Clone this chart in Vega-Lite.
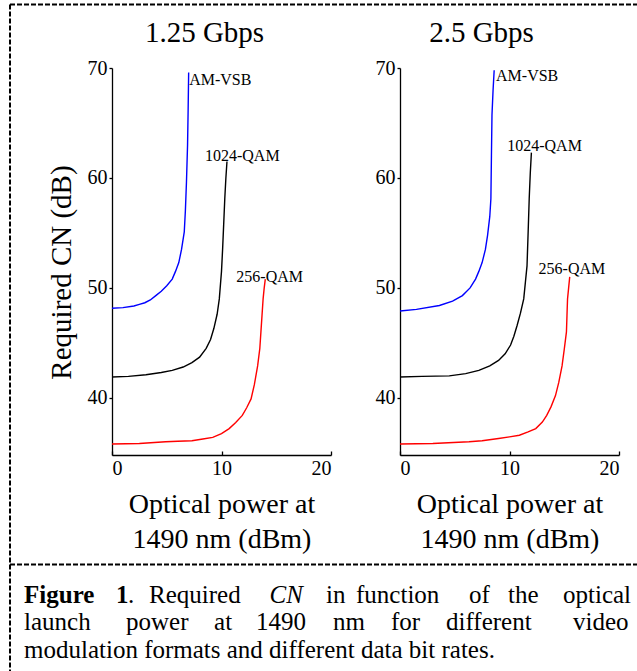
{
  "$schema": "https://vega.github.io/schema/vega-lite/v6.json",
  "padding": {"left": 9, "top": 4, "right": 0, "bottom": 0},
  "background": "white",
  "config": {
    "view": {"stroke": null},
    "font": "Liberation Serif",
    "title": {"font": "Liberation Serif", "fontSize": 29, "fontWeight": "normal", "color": "black", "offset": 10, "frame": "group"},
    "axis": {"grid": false, "labelFont": "Liberation Serif", "labelFontSize": 20, "labelColor": "black", "titleFont": "Liberation Serif", "titleFontSize": 28, "titleFontWeight": "normal", "titleColor": "black", "domainColor": "black", "domainWidth": 1.3, "tickColor": "black", "tickWidth": 1.3},
    "text": {"font": "Liberation Serif", "color": "black"}
  },
  "datasets": {
    "curves": [
      {"rate": "1.25 Gbps", "format": "AM-VSB", "x": 0, "y": 48.15},
      {"rate": "1.25 Gbps", "format": "AM-VSB", "x": 1, "y": 48.2},
      {"rate": "1.25 Gbps", "format": "AM-VSB", "x": 2, "y": 48.35},
      {"rate": "1.25 Gbps", "format": "AM-VSB", "x": 2.5, "y": 48.5},
      {"rate": "1.25 Gbps", "format": "AM-VSB", "x": 3, "y": 48.65},
      {"rate": "1.25 Gbps", "format": "AM-VSB", "x": 3.5, "y": 48.9},
      {"rate": "1.25 Gbps", "format": "AM-VSB", "x": 4, "y": 49.3},
      {"rate": "1.25 Gbps", "format": "AM-VSB", "x": 4.5, "y": 49.7},
      {"rate": "1.25 Gbps", "format": "AM-VSB", "x": 5, "y": 50.2},
      {"rate": "1.25 Gbps", "format": "AM-VSB", "x": 5.5, "y": 50.8},
      {"rate": "1.25 Gbps", "format": "AM-VSB", "x": 5.8, "y": 51.5},
      {"rate": "1.25 Gbps", "format": "AM-VSB", "x": 6.1, "y": 52.3},
      {"rate": "1.25 Gbps", "format": "AM-VSB", "x": 6.35, "y": 53.5},
      {"rate": "1.25 Gbps", "format": "AM-VSB", "x": 6.6, "y": 55.1},
      {"rate": "1.25 Gbps", "format": "AM-VSB", "x": 6.7, "y": 57},
      {"rate": "1.25 Gbps", "format": "AM-VSB", "x": 6.8, "y": 59.6},
      {"rate": "1.25 Gbps", "format": "AM-VSB", "x": 6.9, "y": 63},
      {"rate": "1.25 Gbps", "format": "AM-VSB", "x": 6.95, "y": 66},
      {"rate": "1.25 Gbps", "format": "AM-VSB", "x": 7.0, "y": 69.6},
      {"rate": "1.25 Gbps", "format": "1024-QAM", "x": 0, "y": 41.9},
      {"rate": "1.25 Gbps", "format": "1024-QAM", "x": 1.5, "y": 41.95},
      {"rate": "1.25 Gbps", "format": "1024-QAM", "x": 3.1, "y": 42.1},
      {"rate": "1.25 Gbps", "format": "1024-QAM", "x": 4.5, "y": 42.3},
      {"rate": "1.25 Gbps", "format": "1024-QAM", "x": 5.5, "y": 42.5},
      {"rate": "1.25 Gbps", "format": "1024-QAM", "x": 6.5, "y": 42.8},
      {"rate": "1.25 Gbps", "format": "1024-QAM", "x": 7.3, "y": 43.2},
      {"rate": "1.25 Gbps", "format": "1024-QAM", "x": 8, "y": 43.7},
      {"rate": "1.25 Gbps", "format": "1024-QAM", "x": 8.6, "y": 44.5},
      {"rate": "1.25 Gbps", "format": "1024-QAM", "x": 9, "y": 45.3},
      {"rate": "1.25 Gbps", "format": "1024-QAM", "x": 9.3, "y": 46.3},
      {"rate": "1.25 Gbps", "format": "1024-QAM", "x": 9.6, "y": 47.6},
      {"rate": "1.25 Gbps", "format": "1024-QAM", "x": 9.8, "y": 49},
      {"rate": "1.25 Gbps", "format": "1024-QAM", "x": 10, "y": 51.5},
      {"rate": "1.25 Gbps", "format": "1024-QAM", "x": 10.1, "y": 53.5},
      {"rate": "1.25 Gbps", "format": "1024-QAM", "x": 10.2, "y": 55.8},
      {"rate": "1.25 Gbps", "format": "1024-QAM", "x": 10.3, "y": 58.1},
      {"rate": "1.25 Gbps", "format": "1024-QAM", "x": 10.4, "y": 60},
      {"rate": "1.25 Gbps", "format": "1024-QAM", "x": 10.5, "y": 61.5},
      {"rate": "1.25 Gbps", "format": "256-QAM", "x": 0, "y": 35.8},
      {"rate": "1.25 Gbps", "format": "256-QAM", "x": 2.5, "y": 35.85},
      {"rate": "1.25 Gbps", "format": "256-QAM", "x": 4.9, "y": 36.0},
      {"rate": "1.25 Gbps", "format": "256-QAM", "x": 6, "y": 36.05},
      {"rate": "1.25 Gbps", "format": "256-QAM", "x": 7.3, "y": 36.1},
      {"rate": "1.25 Gbps", "format": "256-QAM", "x": 8.3, "y": 36.25},
      {"rate": "1.25 Gbps", "format": "256-QAM", "x": 9.2, "y": 36.4},
      {"rate": "1.25 Gbps", "format": "256-QAM", "x": 10, "y": 36.75},
      {"rate": "1.25 Gbps", "format": "256-QAM", "x": 10.7, "y": 37.2},
      {"rate": "1.25 Gbps", "format": "256-QAM", "x": 11.3, "y": 37.75},
      {"rate": "1.25 Gbps", "format": "256-QAM", "x": 11.9, "y": 38.4},
      {"rate": "1.25 Gbps", "format": "256-QAM", "x": 12.3, "y": 39.1},
      {"rate": "1.25 Gbps", "format": "256-QAM", "x": 12.7, "y": 39.9},
      {"rate": "1.25 Gbps", "format": "256-QAM", "x": 13, "y": 41.2},
      {"rate": "1.25 Gbps", "format": "256-QAM", "x": 13.3, "y": 42.9},
      {"rate": "1.25 Gbps", "format": "256-QAM", "x": 13.5, "y": 44.5},
      {"rate": "1.25 Gbps", "format": "256-QAM", "x": 13.6, "y": 46},
      {"rate": "1.25 Gbps", "format": "256-QAM", "x": 13.7, "y": 47.5},
      {"rate": "1.25 Gbps", "format": "256-QAM", "x": 13.8, "y": 49},
      {"rate": "1.25 Gbps", "format": "256-QAM", "x": 13.9, "y": 50},
      {"rate": "1.25 Gbps", "format": "256-QAM", "x": 14.0, "y": 50.8},
      {"rate": "2.5 Gbps", "format": "AM-VSB", "x": 0, "y": 47.9},
      {"rate": "2.5 Gbps", "format": "AM-VSB", "x": 1.5, "y": 48.05},
      {"rate": "2.5 Gbps", "format": "AM-VSB", "x": 3.6, "y": 48.4},
      {"rate": "2.5 Gbps", "format": "AM-VSB", "x": 4.8, "y": 48.8},
      {"rate": "2.5 Gbps", "format": "AM-VSB", "x": 5.7, "y": 49.3},
      {"rate": "2.5 Gbps", "format": "AM-VSB", "x": 6.4, "y": 50},
      {"rate": "2.5 Gbps", "format": "AM-VSB", "x": 6.9, "y": 50.8},
      {"rate": "2.5 Gbps", "format": "AM-VSB", "x": 7.2, "y": 51.5},
      {"rate": "2.5 Gbps", "format": "AM-VSB", "x": 7.5, "y": 52.3},
      {"rate": "2.5 Gbps", "format": "AM-VSB", "x": 7.8, "y": 53.5},
      {"rate": "2.5 Gbps", "format": "AM-VSB", "x": 8.0, "y": 54.8},
      {"rate": "2.5 Gbps", "format": "AM-VSB", "x": 8.2, "y": 56.5},
      {"rate": "2.5 Gbps", "format": "AM-VSB", "x": 8.3, "y": 58.1},
      {"rate": "2.5 Gbps", "format": "AM-VSB", "x": 8.35, "y": 62},
      {"rate": "2.5 Gbps", "format": "AM-VSB", "x": 8.4, "y": 65.7},
      {"rate": "2.5 Gbps", "format": "AM-VSB", "x": 8.5, "y": 68},
      {"rate": "2.5 Gbps", "format": "AM-VSB", "x": 8.6, "y": 69.8},
      {"rate": "2.5 Gbps", "format": "1024-QAM", "x": 0, "y": 41.9},
      {"rate": "2.5 Gbps", "format": "1024-QAM", "x": 2, "y": 41.95},
      {"rate": "2.5 Gbps", "format": "1024-QAM", "x": 4.5, "y": 42.0},
      {"rate": "2.5 Gbps", "format": "1024-QAM", "x": 6, "y": 42.2},
      {"rate": "2.5 Gbps", "format": "1024-QAM", "x": 7.2, "y": 42.5},
      {"rate": "2.5 Gbps", "format": "1024-QAM", "x": 8.2, "y": 42.9},
      {"rate": "2.5 Gbps", "format": "1024-QAM", "x": 9.0, "y": 43.4},
      {"rate": "2.5 Gbps", "format": "1024-QAM", "x": 9.6, "y": 44},
      {"rate": "2.5 Gbps", "format": "1024-QAM", "x": 10.1, "y": 44.8},
      {"rate": "2.5 Gbps", "format": "1024-QAM", "x": 10.4, "y": 45.6},
      {"rate": "2.5 Gbps", "format": "1024-QAM", "x": 10.7, "y": 46.6},
      {"rate": "2.5 Gbps", "format": "1024-QAM", "x": 11.0, "y": 47.7},
      {"rate": "2.5 Gbps", "format": "1024-QAM", "x": 11.3, "y": 49},
      {"rate": "2.5 Gbps", "format": "1024-QAM", "x": 11.45, "y": 50.5},
      {"rate": "2.5 Gbps", "format": "1024-QAM", "x": 11.6, "y": 52},
      {"rate": "2.5 Gbps", "format": "1024-QAM", "x": 11.7, "y": 55},
      {"rate": "2.5 Gbps", "format": "1024-QAM", "x": 11.8, "y": 58.1},
      {"rate": "2.5 Gbps", "format": "1024-QAM", "x": 11.9, "y": 60.5},
      {"rate": "2.5 Gbps", "format": "1024-QAM", "x": 12.0, "y": 62.3},
      {"rate": "2.5 Gbps", "format": "256-QAM", "x": 0, "y": 35.8},
      {"rate": "2.5 Gbps", "format": "256-QAM", "x": 3, "y": 35.85},
      {"rate": "2.5 Gbps", "format": "256-QAM", "x": 6.3, "y": 36.0},
      {"rate": "2.5 Gbps", "format": "256-QAM", "x": 7.5, "y": 36.1},
      {"rate": "2.5 Gbps", "format": "256-QAM", "x": 9.0, "y": 36.3},
      {"rate": "2.5 Gbps", "format": "256-QAM", "x": 10, "y": 36.45},
      {"rate": "2.5 Gbps", "format": "256-QAM", "x": 10.9, "y": 36.6},
      {"rate": "2.5 Gbps", "format": "256-QAM", "x": 11.7, "y": 36.9},
      {"rate": "2.5 Gbps", "format": "256-QAM", "x": 12.4, "y": 37.2},
      {"rate": "2.5 Gbps", "format": "256-QAM", "x": 13, "y": 37.8},
      {"rate": "2.5 Gbps", "format": "256-QAM", "x": 13.4, "y": 38.4},
      {"rate": "2.5 Gbps", "format": "256-QAM", "x": 13.8, "y": 39.2},
      {"rate": "2.5 Gbps", "format": "256-QAM", "x": 14.2, "y": 40.2},
      {"rate": "2.5 Gbps", "format": "256-QAM", "x": 14.5, "y": 41.4},
      {"rate": "2.5 Gbps", "format": "256-QAM", "x": 14.8, "y": 42.9},
      {"rate": "2.5 Gbps", "format": "256-QAM", "x": 15.0, "y": 44.4},
      {"rate": "2.5 Gbps", "format": "256-QAM", "x": 15.2, "y": 46},
      {"rate": "2.5 Gbps", "format": "256-QAM", "x": 15.25, "y": 47.5},
      {"rate": "2.5 Gbps", "format": "256-QAM", "x": 15.3, "y": 49},
      {"rate": "2.5 Gbps", "format": "256-QAM", "x": 15.4, "y": 50},
      {"rate": "2.5 Gbps", "format": "256-QAM", "x": 15.5, "y": 51}
    ],
    "labels": [
      {"rate": "1.25 Gbps", "format": "AM-VSB", "x": 7.05, "y": 68.9},
      {"rate": "1.25 Gbps", "format": "1024-QAM", "x": 11.9, "y": 62.0},
      {"rate": "1.25 Gbps", "format": "256-QAM", "x": 14.4, "y": 50.95},
      {"rate": "2.5 Gbps", "format": "AM-VSB", "x": 8.77, "y": 69.3},
      {"rate": "2.5 Gbps", "format": "1024-QAM", "x": 13.2, "y": 62.95},
      {"rate": "2.5 Gbps", "format": "256-QAM", "x": 15.7, "y": 51.7}
    ],
    "caption": [
      {"line": 1, "part": "label", "word": "Figure", "pos": 0},
      {"line": 1, "part": "label", "word": "1", "pos": 0.1508},
      {"line": 1, "part": "text", "word": ".", "pos": 0.1705},
      {"line": 1, "part": "text", "word": "Required", "pos": 0.2049},
      {"line": 1, "part": "term", "word": "CN", "pos": 0.4025},
      {"line": 1, "part": "text", "word": "in", "pos": 0.4951},
      {"line": 1, "part": "text", "word": "function", "pos": 0.5443},
      {"line": 1, "part": "text", "word": "of", "pos": 0.7295},
      {"line": 1, "part": "text", "word": "the", "pos": 0.7934},
      {"line": 1, "part": "text", "word": "optical", "pos": 0.8836},
      {"line": 2, "part": "text", "word": "launch", "pos": 0},
      {"line": 2, "part": "text", "word": "power", "pos": 0.1672},
      {"line": 2, "part": "text", "word": "at", "pos": 0.3115},
      {"line": 2, "part": "text", "word": "1490", "pos": 0.3803},
      {"line": 2, "part": "text", "word": "nm", "pos": 0.5066},
      {"line": 2, "part": "text", "word": "for", "pos": 0.6016},
      {"line": 2, "part": "text", "word": "different", "pos": 0.6918},
      {"line": 2, "part": "text", "word": "video", "pos": 0.9},
      {"line": 3, "part": "text", "word": "modulation formats and different data bit rates.", "pos": 0}
    ]
  },
  "columns": 2,
  "bounds": "flush",
  "spacing": {"row": 109, "column": 69},
  "concat": [
    {
      "width": 219, "height": 387,
      "title": {"text": "1.25 Gbps", "dx": -17},
      "layer": [
        {
          "data": {"name": "curves"},
          "transform": [{"filter": "datum.rate == '1.25 Gbps'"}],
          "mark": {"type": "line", "strokeWidth": 1.4},
          "encoding": {
            "x": {"field": "x", "type": "quantitative", "scale": {"domain": [0, 20], "nice": false}, "axis": {"values": [0, 10, 20], "tickSize": -4, "labelPadding": 7, "title": ["Optical power at", "1490 nm (dBm)"], "titlePadding": 12, "titleLineHeight": 35}},
            "y": {"field": "y", "type": "quantitative", "scale": {"domain": [34.8, 70], "nice": false, "zero": false}, "axis": {"values": [40, 50, 60, 70], "tickSize": 3, "labelPadding": 2, "title": "Required CN (dB)", "titleFontSize": 29, "titlePadding": 11, "titleY": 204}},
            "color": {"field": "format", "type": "nominal", "scale": {"domain": ["AM-VSB", "1024-QAM", "256-QAM"], "range": ["#0000ff", "#000000", "#ff0000"]}, "legend": null}
          }
        },
        {
          "data": {"name": "labels"},
          "transform": [{"filter": "datum.rate == '1.25 Gbps' && datum.format == 'AM-VSB'"}],
          "mark": {"type": "text", "align": "left", "baseline": "middle", "fontSize": 16},
          "encoding": {"x": {"field": "x", "type": "quantitative"}, "y": {"field": "y", "type": "quantitative"}, "text": {"field": "format"}}
        },
        {
          "data": {"name": "labels"},
          "transform": [{"filter": "datum.rate == '1.25 Gbps' && datum.format != 'AM-VSB'"}],
          "mark": {"type": "text", "align": "center", "baseline": "middle", "fontSize": 16},
          "encoding": {"x": {"field": "x", "type": "quantitative"}, "y": {"field": "y", "type": "quantitative"}, "text": {"field": "format"}}
        }
      ]
    },
    {
      "width": 219, "height": 387,
      "title": {"text": "2.5 Gbps", "dx": -28},
      "layer": [
        {
          "data": {"name": "curves"},
          "transform": [{"filter": "datum.rate == '2.5 Gbps'"}],
          "mark": {"type": "line", "strokeWidth": 1.4},
          "encoding": {
            "x": {"field": "x", "type": "quantitative", "scale": {"domain": [0, 20], "nice": false}, "axis": {"values": [0, 10, 20], "tickSize": -4, "labelPadding": 7, "title": ["Optical power at", "1490 nm (dBm)"], "titlePadding": 12, "titleLineHeight": 35}},
            "y": {"field": "y", "type": "quantitative", "scale": {"domain": [34.8, 70], "nice": false, "zero": false}, "axis": {"values": [40, 50, 60, 70], "tickSize": 3, "labelPadding": 2, "title": null}},
            "color": {"field": "format", "type": "nominal", "scale": {"domain": ["AM-VSB", "1024-QAM", "256-QAM"], "range": ["#0000ff", "#000000", "#ff0000"]}, "legend": null}
          }
        },
        {
          "data": {"name": "labels"},
          "transform": [{"filter": "datum.rate == '2.5 Gbps' && datum.format == 'AM-VSB'"}],
          "mark": {"type": "text", "align": "left", "baseline": "middle", "fontSize": 16},
          "encoding": {"x": {"field": "x", "type": "quantitative"}, "y": {"field": "y", "type": "quantitative"}, "text": {"field": "format"}}
        },
        {
          "data": {"name": "labels"},
          "transform": [{"filter": "datum.rate == '2.5 Gbps' && datum.format != 'AM-VSB'"}],
          "mark": {"type": "text", "align": "center", "baseline": "middle", "fontSize": 16},
          "encoding": {"x": {"field": "x", "type": "quantitative"}, "y": {"field": "y", "type": "quantitative"}, "text": {"field": "format"}}
        }
      ]
    },
    {
      "width": 219, "height": 120,
      "resolve": {"axis": {"x": "independent"}},
      "layer": [
        {
          "data": {"name": "caption"},
          "encoding": {
            "x": {"field": "pos", "type": "quantitative", "scale": {"domain": [-0.0238, 1.0254], "range": [-102.5, 537.5], "nice": false, "zero": false}, "axis": {"orient": "top", "offset": 560, "domainDash": [5, 2], "domainWidth": 2, "ticks": false, "labels": false, "title": null, "grid": false}},
            "y": {"field": "line", "type": "quantitative", "scale": {"domain": [-20.7818, 3.9455], "range": [-560, 120], "nice": false, "zero": false}, "axis": {"orient": "left", "offset": 102.5, "domainDash": [5, 2], "domainWidth": 2, "ticks": false, "labels": false, "title": null, "grid": false}},
            "text": {"field": "word"}
          },
          "layer": [
            {"transform": [{"filter": "datum.part == 'label'"}], "mark": {"type": "text", "align": "left", "baseline": "alphabetic", "fontSize": 25, "fontWeight": "bold"}},
            {"transform": [{"filter": "datum.part == 'term'"}], "mark": {"type": "text", "align": "left", "baseline": "alphabetic", "fontSize": 25, "fontStyle": "italic"}},
            {"transform": [{"filter": "datum.part == 'text'"}], "mark": {"type": "text", "align": "left", "baseline": "alphabetic", "fontSize": 25}}
          ]
        },
        {
          "data": {"values": []},
          "mark": "point",
          "encoding": {
            "x": {"field": "pos", "type": "quantitative", "axis": {"orient": "top", "offset": 0, "domainDash": [5, 2], "domainWidth": 2, "ticks": false, "labels": false, "title": null, "grid": false}}
          }
        }
      ]
    }
  ]
}
